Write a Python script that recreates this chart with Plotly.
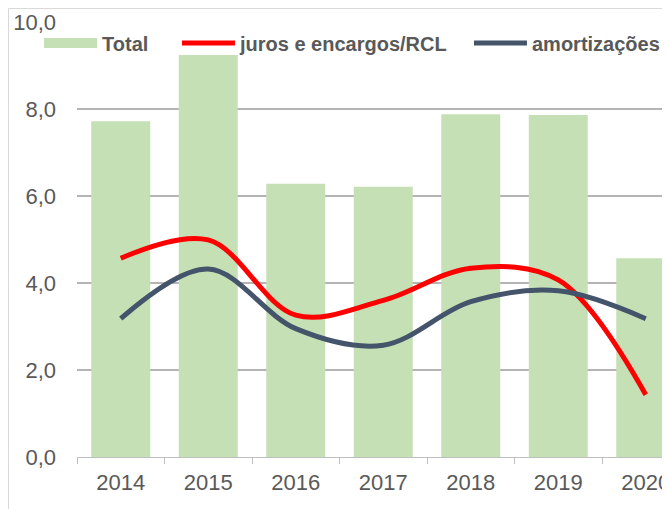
import plotly.graph_objects as go

anos = ["2014", "2015", "2016", "2017", "2018", "2019", "2020"]
total = [7.72, 9.24, 6.28, 6.21, 7.88, 7.86, 4.57]
juros_rcl = [4.57, 4.99, 3.26, 3.6, 4.34, 4.07, 1.43]
amortizacoes = [3.18, 4.32, 2.95, 2.57, 3.57, 3.82, 3.18]

verde = "#C5E0B4"
fonte = "Liberation Sans, Arial, sans-serif"

fig = go.Figure()

fig.add_trace(go.Bar(x=anos, y=total, name="Total", showlegend=False,
                     marker=dict(color=verde, line=dict(width=0))))
# entrada de legenda do Total (retangulo largo como no Excel)
fig.add_trace(go.Scatter(x=[None], y=[None], name="Total", mode="lines",
                         line=dict(color=verde, width=13), legend="legend"))
fig.add_trace(go.Scatter(x=anos, y=juros_rcl, name="juros e encargos/RCL", legend="legend2",
                         mode="lines", line=dict(color="#FF0000", width=5, shape="spline")))
fig.add_trace(go.Scatter(x=anos, y=amortizacoes, name="amortizações", legend="legend3",
                         mode="lines", line=dict(color="#44546A", width=5, shape="spline")))

# moldura do grafico (cortada na direita e embaixo)
fig.add_shape(type="rect", xref="paper", yref="paper",
              x0=-0.1155, x1=1.2, y0=-0.3, y1=1.031,
              line=dict(color="#D9D9D9", width=1), layer="below")

leg = dict(orientation="h", yanchor="middle", y=0.952, xanchor="left",
           bgcolor="rgba(0,0,0,0)", itemwidth=53,
           font=dict(family=fonte, size=20, color="#595959", weight="bold"))

fig.update_layout(
    width=662, height=501,
    margin=dict(l=69, r=0, t=14, b=52),
    paper_bgcolor="white", plot_bgcolor="white",
    separators=",.",
    bargap=0.326,
    showlegend=True,
    legend=dict(leg, x=-0.064),
    legend2=dict(leg, x=0.1686),
    legend3=dict(leg, x=0.661),
    font=dict(family=fonte, color="#595959"),
    xaxis=dict(type="category", range=[-0.5, 6.277], showgrid=False,
               showline=True, linecolor="#BFBFBF", linewidth=1,
               ticks="outside", tickson="boundaries", ticklen=6, tickcolor="#BFBFBF",
               ticklabelstandoff=6,
               tickfont=dict(size=22, color="#595959")),
    yaxis=dict(range=[0, 10], dtick=2, tickformat=".1f", showgrid=True,
               gridcolor="#B4B4B4", gridwidth=1.5, zeroline=False, showline=False,
               ticks="", ticklabelstandoff=20,
               tickfont=dict(size=22, color="#595959")),
)

fig.write_html("out.html")
